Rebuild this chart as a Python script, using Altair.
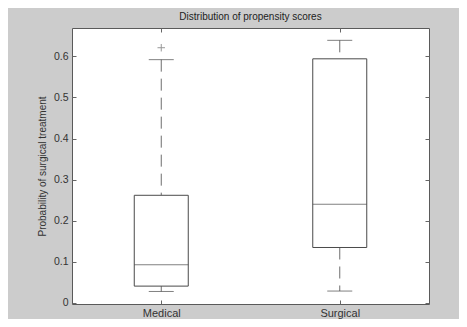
import altair as alt
import pandas as pd

# ---- data ----
categories = ["Medical", "Surgical"]
q1 = [0.041, 0.135]
medians = [0.093, 0.240]
q3 = [0.262, 0.594]
whisker_low = [0.028, 0.029]
whisker_high = [0.592, 0.639]
outlier_groups = ["Medical"]
outlier_values = [0.621]
y_tick_values = [0, 0.1, 0.2, 0.3, 0.4, 0.5, 0.6]

df = pd.DataFrame({
    "group": categories, "q1": q1, "median": medians, "q3": q3,
    "lo": whisker_low, "hi": whisker_high,
})
out = pd.DataFrame({"group": outlier_groups, "value": outlier_values})

FONT = "Liberation Sans"
BOX = "#4a4a4a"
WHISK = "#6e6e6e"

xscale = alt.Scale(type="point", domain=categories, padding=0.5)
yscale = alt.Scale(domain=[-0.0025, 0.669], nice=False, zero=False)

x_bottom = alt.X("group:N", scale=xscale, title=None,
                 axis=alt.Axis(orient="bottom", offset=-4, tickSize=4, labelPadding=3,
                               domain=False, grid=False, labelAngle=0, labelFontSize=11,
                               labelFont=FONT, labelColor="#333", tickColor="#666"))
y_left = alt.Y("hi:Q", scale=yscale, title="Probability of surgical treatment",
               axis=alt.Axis(orient="left", offset=-4, tickSize=4, labelPadding=4,
                             domain=False, grid=False, values=y_tick_values, format=".1~f",
                             labelFontSize=10.5, labelFont=FONT, labelColor="#333",
                             tickColor="#666", titleFont=FONT, titleFontSize=10,
                             titleFontWeight="normal", titleColor="#333",
                             titlePadding=6))

base = alt.Chart(df)

upper_whisker = base.mark_rule(color=WHISK, strokeDash=[12, 7], strokeWidth=1).encode(
    x=x_bottom, y=y_left, y2="q3:Q")
lower_whisker = base.mark_rule(color=WHISK, strokeDash=[12, 7], strokeWidth=1).encode(
    x=alt.X("group:N", scale=xscale, axis=None),
    y=alt.Y("q1:Q", scale=yscale, axis=None), y2="lo:Q")
boxes = base.mark_bar(size=54, fill="white", stroke=BOX, strokeWidth=1).encode(
    x=alt.X("group:N", scale=xscale, axis=None),
    y=alt.Y("q1:Q", scale=yscale, axis=None), y2="q3:Q")
median_line = base.mark_tick(size=54, thickness=1, color=BOX).encode(
    x=alt.X("group:N", scale=xscale, axis=None),
    y=alt.Y("median:Q", scale=yscale, axis=None))
cap_hi = base.mark_tick(size=25, thickness=1, color=BOX).encode(
    x=alt.X("group:N", scale=xscale, axis=None),
    y=alt.Y("hi:Q", scale=yscale, axis=None))
cap_lo = base.mark_tick(size=25, thickness=1, color=BOX).encode(
    x=alt.X("group:N", scale=xscale, axis=None),
    y=alt.Y("lo:Q", scale=yscale, axis=None))
outliers = alt.Chart(out).mark_point(
    shape="M-1,0L1,0M0,-1L0,1", size=56, filled=False, stroke=WHISK, strokeWidth=1
).encode(
    x=alt.X("group:N", scale=xscale, axis=None),
    y=alt.Y("value:Q", scale=yscale, axis=None))

# top and right axes (ticks only), as in the boxed reference frame
frame_axes = base.mark_point(opacity=0).encode(
    x=alt.X("group:N", scale=xscale, title=None,
            axis=alt.Axis(orient="top", offset=-4, tickSize=4, labels=False,
                          domain=False, grid=False, tickColor="#666")),
    y=alt.Y("median:Q", scale=yscale, title=None,
            axis=alt.Axis(orient="right", offset=-4, tickSize=4, labels=False,
                          domain=False, grid=False, values=y_tick_values,
                          tickColor="#666")))

chart = alt.layer(
    upper_whisker, lower_whisker, boxes, median_line, cap_hi, cap_lo, outliers, frame_axes
).resolve_axis(x="independent", y="independent").properties(
    width=357, height=276,
    autosize=alt.AutoSizeParams(type="none"),
    padding={"left": 64, "top": 20, "right": 30, "bottom": 15},
    title=alt.TitleParams("Distribution of propensity scores", font=FONT, fontSize=10,
                          fontWeight="normal", color="#222", anchor="middle",
                          baseline="alphabetic", offset=-2),
).configure(background="#cccccc").configure_axis(grid=False).configure_view(
    fill="white", stroke="#5a5a5a", strokeWidth=1)

chart.save("out.html", embed_options={"renderer": "svg", "actions": False})
